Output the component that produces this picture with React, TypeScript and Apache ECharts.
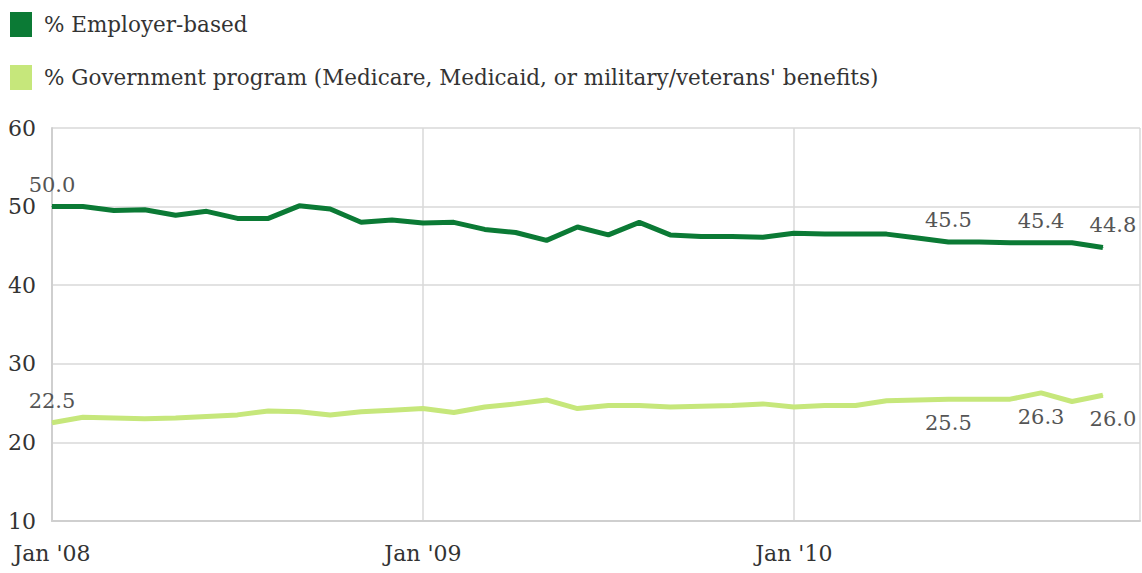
import React, { useEffect, useRef } from "react";
import * as echarts from "echarts";

const months: string[] = [
  "Jan '08","Feb '08","Mar '08","Apr '08","May '08","Jun '08","Jul '08","Aug '08","Sep '08","Oct '08","Nov '08","Dec '08",
  "Jan '09","Feb '09","Mar '09","Apr '09","May '09","Jun '09","Jul '09","Aug '09","Sep '09","Oct '09","Nov '09","Dec '09",
  "Jan '10","Feb '10","Mar '10","Apr '10","May '10","Jun '10","Jul '10","Aug '10","Sep '10","Oct '10","Nov '10",
];

const employer: number[] = [
  50.0, 50.0, 49.5, 49.6, 48.9, 49.4, 48.5, 48.5, 50.1, 49.7, 48.0, 48.3,
  47.9, 48.0, 47.1, 46.7, 45.7, 47.4, 46.4, 48.0, 46.4, 46.2, 46.2, 46.1,
  46.6, 46.5, 46.5, 46.5, 46.0, 45.5, 45.5, 45.4, 45.4, 45.4, 44.8,
];

const government: number[] = [
  22.5, 23.2, 23.1, 23.0, 23.1, 23.3, 23.5, 24.0, 23.9, 23.5, 23.9, 24.1,
  24.3, 23.8, 24.5, 24.9, 25.4, 24.3, 24.7, 24.7, 24.5, 24.6, 24.7, 24.9,
  24.5, 24.7, 24.7, 25.3, 25.4, 25.5, 25.5, 25.5, 26.3, 25.2, 26.0,
];

// index -> label position
const employerLabels: [number, "top" | "bottom"][] = [[0, "top"], [29, "top"], [32, "top"], [34, "top"]];
const governmentLabels: [number, "top" | "bottom"][] = [[0, "top"], [29, "bottom"], [32, "bottom"], [34, "bottom"]];

const yTicks: number[] = [10, 20, 30, 40, 50, 60];

const FONT = "DejaVu Serif";
const DARK = "#0b7a35";
const LIGHT = "#c6e77b";

export default function App() {
  const ref = useRef<HTMLDivElement>(null);
  useEffect(() => {
    if (!ref.current) return;
    const chart = echarts.init(ref.current, undefined, { renderer: "svg" });

    const build = (vals: number[], labeled: [number, "top" | "bottom"][]) =>
      vals.map((v, i) => {
        const item: any = { value: [i, v] };
        const found = labeled.find((l) => l[0] === i);
        if (found) {
          const pos = found[1];
          const dx = i === vals.length - 1 ? 10 : 0;
          item.label = {
            show: true,
            position: pos,
            distance: pos === "top" ? 11 : 13,
            offset: [dx, 0],
            formatter: () => v.toFixed(1),
          };
        }
        return item;
      });

    chart.setOption({
      animation: false,
      textStyle: { fontFamily: FONT },
      legend: {
        orient: "vertical",
        left: 5,
        top: 7,
        itemWidth: 22,
        itemHeight: 25,
        itemGap: 28,
        icon: "rect",
        textStyle: { fontFamily: FONT, fontSize: 21.5, color: "#333", padding: [0, 0, 0, 7] },
        data: [
          { name: "% Employer-based", itemStyle: { color: DARK } },
          { name: "% Government program (Medicare, Medicaid, or military/veterans' benefits)", itemStyle: { color: LIGHT } },
        ],
        selectedMode: false,
      },
      grid: { left: 52, right: 2, top: 128, bottom: 52 },
      xAxis: {
        type: "value",
        min: 0,
        max: 35.2,
        interval: 12,
        axisLine: { show: true, lineStyle: { color: "#cfcfcf", width: 2 } },
        axisTick: { show: false },
        splitLine: { show: true, lineStyle: { color: "#d9d9d9", width: 1.5 } },
        axisLabel: {
          showMaxLabel: false,
          margin: 21,
          fontFamily: FONT,
          fontSize: 22,
          color: "#333",
          formatter: (v: number) => months[Math.round(v)] ?? "",
        },
      },
      yAxis: {
        type: "value",
        min: yTicks[0],
        max: yTicks[yTicks.length - 1],
        interval: 10,
        axisLine: { show: true, lineStyle: { color: "#cfcfcf", width: 2 } },
        axisTick: { show: false },
        splitLine: { show: true, lineStyle: { color: "#d9d9d9", width: 1.5 } },
        axisLabel: { margin: 16, fontFamily: FONT, fontSize: 22, color: "#333" },
      },
      series: [
        {
          name: "% Employer-based",
          type: "line",
          data: build(employer, employerLabels),
          symbol: "circle",
          symbolSize: 1,
          lineStyle: { color: DARK, width: 5 },
          itemStyle: { color: DARK },
          label: { show: false, fontFamily: FONT, fontSize: 21, color: "#555" },
          z: 3,
        },
        {
          name: "% Government program (Medicare, Medicaid, or military/veterans' benefits)",
          type: "line",
          data: build(government, governmentLabels),
          symbol: "circle",
          symbolSize: 1,
          lineStyle: { color: LIGHT, width: 5 },
          itemStyle: { color: LIGHT },
          label: { show: false, fontFamily: FONT, fontSize: 21, color: "#555" },
          z: 2,
        },
      ],
    });
    return () => chart.dispose();
  }, []);
  return <div ref={ref} style={{ width: 1142, height: 573, position: "absolute", left: 0, top: 0 }} />;
}
